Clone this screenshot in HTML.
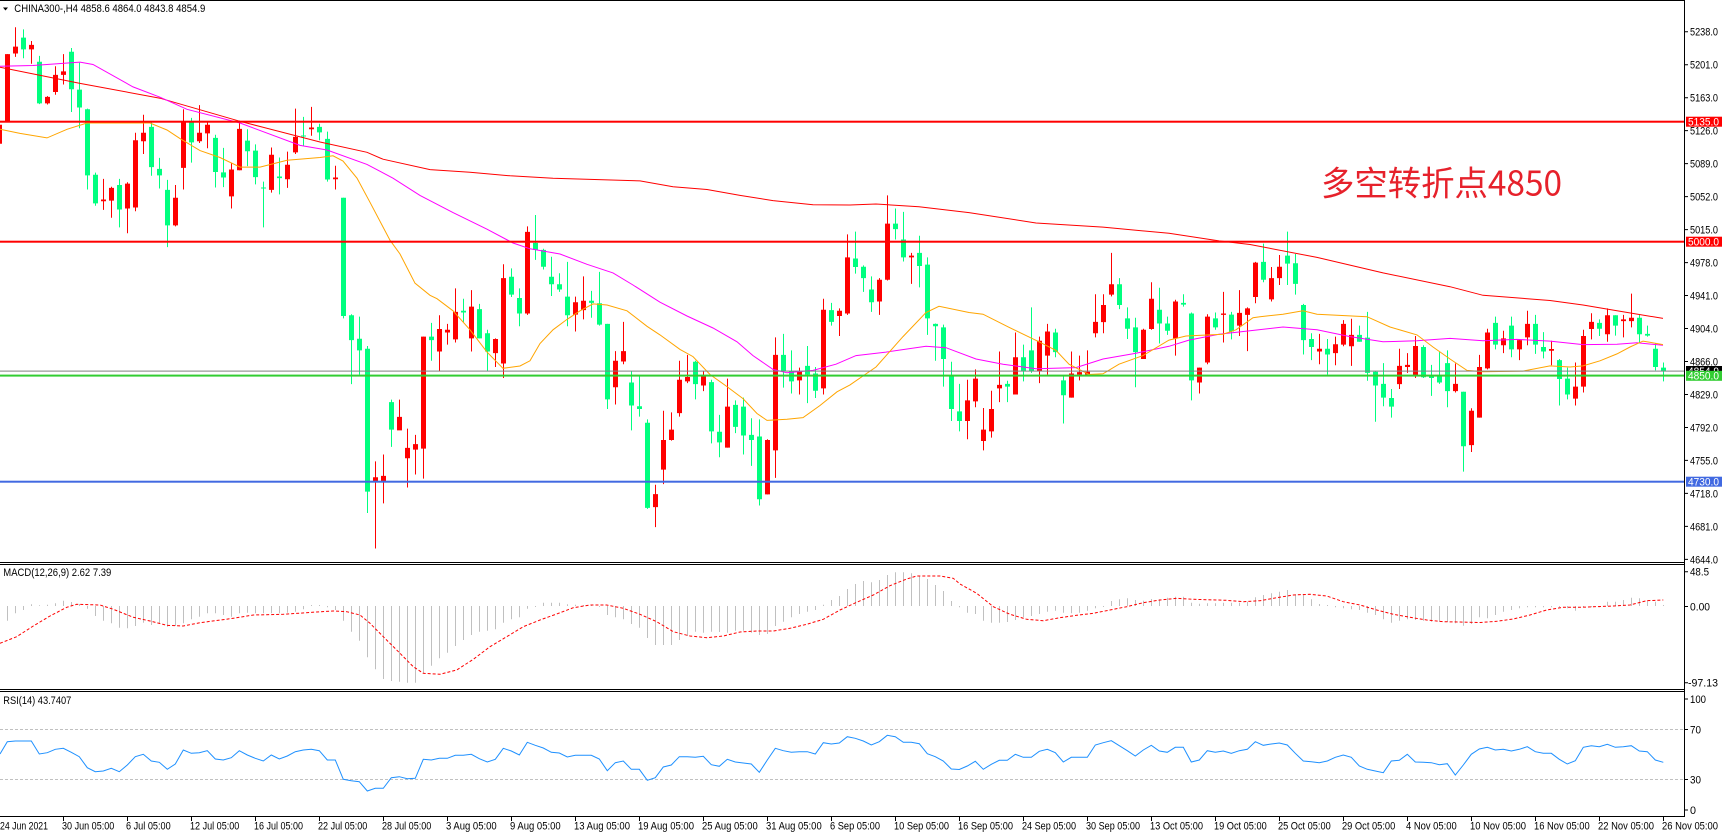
<!DOCTYPE html>
<html><head><meta charset="utf-8"><style>
html,body{margin:0;padding:0;background:#fff;}
svg{display:block;}
text{font-family:"Liberation Sans",Arial,sans-serif;font-size:11px;fill:#000;}
</style></head><body>
<svg width="1727" height="837" viewBox="0 0 1727 837" xmlns="http://www.w3.org/2000/svg">
<rect x="0" y="0" width="1727" height="837" fill="#fff"/>

<!-- candles (y in zoom units) -->
<g transform="translate(0,19.7) scale(1,0.3445)" fill="none">
<path stroke="#ff0000" stroke-width="1" d="M-0.5 300V365M7.5 100V295M15.5 22V108M31.5 62V128M47.5 222V246M55.5 135V218M63.5 100V188M103.5 462V552M111.5 485V575M127.5 472V620M135.5 328V556M143.5 276V390M175.5 480V600M183.5 260V493M199.5 248V358M207.5 296V373M231.5 416V548M239.5 293V437M271.5 371V502M287.5 383V488M295.5 258V390M311.5 253V337M335.5 424V493M375.5 1282V1535M383.5 1262V1404M399.5 1103V1190M407.5 1187V1358M415.5 1205V1320M423.5 920V1332M439.5 858V1020M447.5 883V943M455.5 780V937M471.5 785V963M495.5 925V1008M503.5 710V1040M527.5 600V857M575.5 804V905M583.5 745V870M615.5 962V1117M623.5 877V1000M655.5 1350V1473M663.5 1135V1348M671.5 1140V1222M679.5 990V1152M687.5 973V1055M703.5 1020V1078M727.5 1042V1242M767.5 1218V1378M775.5 922V1330M799.5 1010V1088M823.5 810V1088M839.5 838V918M847.5 623V857M879.5 750V857M887.5 510V757M911.5 677V767M967.5 1045V1218M975.5 1015V1125M983.5 1127V1250M991.5 1077V1213M999.5 963V1110M1015.5 908V1088M1039.5 920V1055M1047.5 883V1030M1071.5 963V1097M1079.5 975V1047M1087.5 960V1030M1095.5 797V922M1103.5 797V910M1111.5 677V803M1143.5 897V985M1151.5 762V900M1175.5 813V975M1199.5 1010V1085M1207.5 855V1000M1223.5 790V937M1239.5 785V918M1247.5 835V962M1255.5 703V823M1271.5 718V818M1279.5 683V770M1319.5 912V1000M1335.5 920V1003M1343.5 872V948M1351.5 868V1005M1399.5 955V1072M1407.5 968V1025M1415.5 918V1040M1455.5 998V1082M1471.5 1128V1255M1479.5 973V1155M1487.5 897V1015M1503.5 903V968M1519.5 927V988M1527.5 845V945M1551.5 932V1003M1575.5 995V1120M1583.5 900V1082M1591.5 852V928M1607.5 838V935M1623.5 857V922M1631.5 795V893"/>
<path stroke="#ff0000" stroke-width="5" d="M-0.5 305V360M7.5 100V295M15.5 78V98M31.5 73V86M47.5 224V243M55.5 160V210M63.5 150V160M103.5 522V527M111.5 488V525M127.5 476V548M135.5 350V545M143.5 328V353M175.5 517V597M183.5 296V430M199.5 328V353M207.5 305V330M231.5 435V513M239.5 317V437M271.5 392V494M287.5 421V463M295.5 340V385M311.5 313V318M335.5 458V463M375.5 1328V1340M383.5 1324V1340M399.5 1153V1192M407.5 1243V1273M415.5 1232V1248M423.5 920V1245M439.5 898V963M447.5 900V908M455.5 848V928M471.5 833V925M495.5 927V968M503.5 750V998M527.5 616V853M575.5 820V856M583.5 816V843M615.5 990V1067M623.5 962V992M655.5 1377V1415M663.5 1220V1306M671.5 1190V1220M679.5 1045V1142M687.5 1037V1050M703.5 1035V1062M727.5 1123V1242M767.5 1220V1378M775.5 973V1250M799.5 1020V1047M823.5 842V1070M839.5 845V860M847.5 690V853M879.5 755V818M887.5 592V755M911.5 685V690M967.5 1105V1165M975.5 1042V1108M983.5 1190V1223M991.5 1130V1195M999.5 1060V1070M1015.5 980V1088M1039.5 932V1020M1047.5 905V975M1071.5 1027V1097M1079.5 1023V1030M1087.5 1022V1030M1095.5 877V910M1103.5 828V878M1111.5 768V798M1143.5 900V985M1151.5 810V898M1175.5 818V925M1199.5 1010V1053M1207.5 862V995M1223.5 853V857M1239.5 851V888M1247.5 838V857M1255.5 705V805M1271.5 750V812M1279.5 717V750M1319.5 955V963M1335.5 942V968M1343.5 883V943M1351.5 915V948M1399.5 1005V1058M1407.5 1002V1008M1415.5 947V1032M1455.5 1057V1078M1471.5 1135V1235M1479.5 1008V1155M1487.5 908V1012M1503.5 925V945M1519.5 930V957M1527.5 883V922M1551.5 956V961M1575.5 1065V1100M1583.5 918V1065M1591.5 877V898M1607.5 858V913M1623.5 870V875M1631.5 865V875"/>
<path stroke="#00ff7f" stroke-width="1" d="M23.5 28V112M39.5 105V245M71.5 82V268M79.5 125V315M87.5 258V493M95.5 444V540M119.5 462V603M151.5 298V453M159.5 401V490M167.5 465V660M191.5 285V415M215.5 334V487M223.5 372V486M247.5 318V425M255.5 362V478M263.5 470V603M279.5 400V507M303.5 282V365M319.5 302V350M327.5 325V470M343.5 517V867M351.5 855V1058M359.5 862V1030M367.5 947V1432M391.5 1103V1240M431.5 880V990M463.5 810V877M479.5 825V925M487.5 900V1020M511.5 722V805M519.5 780V890M535.5 567V697M543.5 665V725M551.5 688V802M559.5 736V790M567.5 703V890M591.5 787V865M599.5 732V888M607.5 883V1130M631.5 1020V1192M639.5 1035V1152M647.5 1160V1420M695.5 990V1102M711.5 1045V1230M719.5 1147V1270M735.5 1105V1200M743.5 1097V1262M751.5 1157V1295M759.5 1160V1410M783.5 912V1068M791.5 960V1085M807.5 947V1113M815.5 1008V1098M831.5 822V888M855.5 615V737M863.5 713V790M871.5 745V848M895.5 548V638M903.5 558V702M919.5 627V777M927.5 690V915M935.5 882V990M943.5 885V1065M951.5 993V1165M959.5 1057V1195M1007.5 1048V1110M1023.5 943V1050M1031.5 835V1025M1055.5 897V980M1063.5 1035V1172M1119.5 750V840M1127.5 835V927M1135.5 865V1067M1159.5 778V940M1167.5 862V915M1183.5 797V833M1191.5 850V1105M1215.5 850V900M1231.5 848V928M1263.5 650V762M1287.5 615V770M1295.5 680V798M1303.5 825V972M1311.5 910V988M1327.5 927V1030M1359.5 888V935M1367.5 848V1048M1375.5 1020V1167M1383.5 997V1122M1391.5 1072V1155M1423.5 945V1040M1431.5 1002V1092M1439.5 965V1057M1447.5 960V1125M1463.5 1080V1312M1495.5 862V957M1511.5 862V980M1535.5 857V970M1543.5 907V983M1559.5 985V1120M1567.5 1010V1102M1599.5 870V918M1615.5 858V917M1639.5 857V940M1647.5 888V920M1655.5 940V1018M1663.5 995V1050"/>
<path stroke="#00ff7f" stroke-width="5" d="M23.5 52V86M39.5 122V243M71.5 93V202M79.5 203V255M87.5 260V452M95.5 450V533M119.5 480V551M151.5 311V428M159.5 433V452M167.5 494V597M191.5 296V356M215.5 343V442M223.5 443V458M247.5 351V382M255.5 380V457M263.5 487V490M279.5 455V460M303.5 336V339M319.5 311V327M327.5 346V464M343.5 517V860M351.5 858V930M359.5 926V960M367.5 955V1370M391.5 1110V1190M431.5 920V930M463.5 845V850M479.5 840V925M487.5 910V963M511.5 746V798M519.5 808V853M535.5 648V668M543.5 668V717M551.5 746V768M559.5 768V783M567.5 804V858M591.5 816V822M599.5 823V885M607.5 883V1102M631.5 1053V1120M639.5 1122V1130M647.5 1170V1417M695.5 993V1058M711.5 1052V1195M719.5 1196V1227M735.5 1118V1182M743.5 1123V1207M751.5 1205V1220M759.5 1210V1392M783.5 973V1020M791.5 1020V1050M807.5 1005V1030M815.5 1027V1077M831.5 843V877M855.5 693V718M863.5 717V750M871.5 783V820M895.5 592V608M903.5 638V690M919.5 677V715M927.5 711V867M935.5 883V890M943.5 893V985M951.5 1035V1130M959.5 1137V1165M1007.5 1057V1065M1023.5 980V1020M1031.5 960V1020M1055.5 908V965M1063.5 1047V1090M1119.5 768V828M1127.5 867V897M1135.5 893V965M1159.5 842V882M1167.5 882V903M1183.5 822V827M1191.5 853V1047M1215.5 867V893M1231.5 856V905M1263.5 703V755M1287.5 685V708M1295.5 707V767M1303.5 828V930M1311.5 927V950M1327.5 955V972M1359.5 915V935M1367.5 923V1025M1375.5 1022V1062M1383.5 1057V1097M1391.5 1098V1123M1423.5 950V1038M1431.5 1035V1040M1439.5 1035V1053M1447.5 997V1078M1463.5 1080V1238M1495.5 880V943M1511.5 888V957M1535.5 883V943M1543.5 950V963M1559.5 988V1043M1567.5 1042V1088M1599.5 880V897M1615.5 858V888M1639.5 865V913M1647.5 912V917M1655.5 955V1008M1663.5 1010V1020"/>
</g>

<!-- moving averages -->
<g fill="none" stroke-width="1">
<polyline stroke="#ff0000" points="0,67.2 80,83.4 160,98.2 240,121.3 320,142 367,152.3 383,159.2 430,169.6 470,172.3 510,175.8 553,178.2 607,179.9 640,180.9 673,186.8 707,189.5 740,195.4 773,200.6 813,204.7 850,205 876,204 919,206.8 969,212.6 1036,223 1103,227.1 1169,233.3 1219,240.9 1250,244.5 1317,257.4 1383,272.9 1450,286.7 1483,295.3 1550,300.5 1583,305 1617,310.8 1663,318.4"/>
<polyline stroke="#ff00ff" points="0,66.2 33,65.5 80,62.1 93,64.5 133,86.9 160,97.2 187,109.3 240,123 300,145.4 327,150 367,164.4 393,178.2 420,195.4 453,212.6 487,229.2 513,243 530,248.8 560,254 587,264.3 613,272.9 633,285 660,302.2 687,316 713,328 737,341.8 753,355.6 773,369.4 787,372.8 813,370.4 836,364.2 856,355.6 886,352.1 926,346.3 946,347.7 976,359 1003,364.2 1036,368.7 1076,367.6 1103,359 1136,353.2 1169,346.3 1189,340.1 1219,334.2 1250,330.8 1283,327 1317,329.8 1350,336.6 1383,341.8 1417,340.8 1450,338.4 1483,340.8 1517,339.4 1550,341.1 1583,344.6 1617,344.2 1637,342.8 1663,345.3"/>
<polyline stroke="#ffa500" points="0,129.3 20,133.4 47,137.9 67,129.3 87,123 150,123 167,130 180,138.6 200,150.6 220,157.5 240,167.1 260,167.1 287,160.3 320,157.5 333,155.8 343,161 357,178.2 370,202.3 390,240.2 400,254 415,283.2 430,295.3 437,298.7 453,310.8 470,329.8 487,352.1 503,368.3 520,366 530,360.8 540,343.5 553,329.8 567,319.4 580,310.8 593,303.9 607,305 627,310.8 647,326.3 660,334.9 680,349.4 693,356.6 710,374.5 727,386.6 743,398.6 757,413.5 767,420.4 787,419.3 803,417.6 820,405.5 837,391.8 850,384.9 876,367 903,336.6 926,312.5 939,306.3 969,312.5 983,314.2 1009,327.3 1039,341.8 1056,350.4 1069,364.2 1089,374.5 1103,373.8 1119,364.2 1143,355.6 1169,340.1 1186,336 1223,334.2 1236,329.8 1253,317.7 1260,316.7 1283,314.2 1303,310.8 1317,314.2 1367,316.7 1390,327 1417,334.9 1433,347 1450,359 1467,370.4 1483,371.8 1523,371.1 1550,365.9 1570,367 1583,365.9 1600,360.8 1617,353.9 1630,347 1643,341.1 1663,344.6"/>
</g>

<!-- horizontal levels -->
<rect x="0" y="120.7" width="1684" height="2" fill="#ff0000"/>
<rect x="0" y="240.7" width="1684" height="2" fill="#ff0000"/>
<rect x="0" y="370.6" width="1684" height="1" fill="#808080"/>
<rect x="0" y="374.6" width="1684" height="2" fill="#32cd32"/>
<rect x="0" y="480.7" width="1684" height="2" fill="#4169e1"/>

<!-- annotation -->
<text x="1321" y="195.5" textLength="241" lengthAdjust="spacingAndGlyphs" style="font-family:'Noto Sans CJK SC','Liberation Sans',sans-serif;font-size:34px;fill:#e6212b;">多空转折点4850</text>

<!-- header -->
<polygon points="3,7.5 8,7.5 5.5,10.5" fill="#000"/>
<text x="14.3" y="12" textLength="191" lengthAdjust="spacingAndGlyphs">CHINA300-,H4  4858.6 4864.0 4843.8 4854.9</text>

<!-- MACD histogram -->
<path fill="none" stroke="#c0c0c0" stroke-width="1" d="M7.5 606V620.7M15.5 606V613.3M23.5 606V610M31.5 606V604.3M39.5 606V605.3M47.5 606V604.7M55.5 606V603.3M63.5 606V600.7M71.5 606V602M79.5 606V604M87.5 606V608.7M95.5 606V616M103.5 606V620.7M111.5 606V623.3M119.5 606V627.7M127.5 606V628.3M135.5 606V626M143.5 606V622.7M151.5 606V625M159.5 606V623.3M167.5 606V626.7M175.5 606V626M183.5 606V623.3M191.5 606V619.3M199.5 606V616.7M207.5 606V613.3M215.5 606V613.3M223.5 606V615M231.5 606V616.7M239.5 606V613.3M247.5 606V612.7M255.5 606V613.3M263.5 606V613.3M271.5 606V613.3M279.5 606V613.3M287.5 606V612.7M295.5 606V611.7M303.5 606V609.3M311.5 606V605M319.5 606V605M327.5 606V607.3M335.5 606V610M343.5 606V620.7M351.5 606V631.7M359.5 606V640.7M367.5 606V657.3M375.5 606V669.3M383.5 606V679M391.5 606V681M399.5 606V681.7M407.5 606V682.7M415.5 606V682.7M423.5 606V673.3M431.5 606V665.7M439.5 606V658.3M447.5 606V652.7M455.5 606V646M463.5 606V640M471.5 606V635M479.5 606V631.7M487.5 606V630.7M495.5 606V629.3M503.5 606V622.7M511.5 606V619.3M519.5 606V617.3M527.5 606V608.7M535.5 606V607M543.5 606V602.7M551.5 606V602.7M559.5 606V602.7M567.5 606V604.3M575.5 606V604.7M583.5 606V605M591.5 606V605M599.5 606V607M607.5 606V615M615.5 606V617.3M623.5 606V619.3M631.5 606V624M639.5 606V627.7M647.5 606V638M655.5 606V645M663.5 606V645M671.5 606V645M679.5 606V640M687.5 606V636M695.5 606V631.7M703.5 606V632.7M711.5 606V631.7M719.5 606V632M727.5 606V632.7M735.5 606V630.7M743.5 606V630.7M751.5 606V632.7M759.5 606V635M767.5 606V634M775.5 606V626M783.5 606V621.7M791.5 606V617.3M799.5 606V614M807.5 606V611.7M815.5 606V610M823.5 606V604.7M831.5 606V600M839.5 606V596M847.5 606V589M855.5 606V584M863.5 606V581M871.5 606V582.3M879.5 606V580M887.5 606V575M895.5 606V572.3M903.5 606V572.3M911.5 606V573.3M919.5 606V575.7M927.5 606V579M935.5 606V585M943.5 606V591M951.5 606V601M959.5 606V607.3M967.5 606V612.7M975.5 606V614M983.5 606V620.7M991.5 606V622.7M999.5 606V622.7M1007.5 606V622M1015.5 606V620M1023.5 606V617.3M1031.5 606V616M1039.5 606V614M1047.5 606V611.7M1055.5 606V610.7M1063.5 606V612.7M1071.5 606V613.3M1079.5 606V612.7M1087.5 606V610.7M1095.5 606V608.3M1103.5 606V607M1111.5 606V601M1119.5 606V599.3M1127.5 606V598.3M1135.5 606V600M1143.5 606V600.7M1151.5 606V599M1159.5 606V599.3M1167.5 606V597.7M1175.5 606V596.7M1183.5 606V596.7M1191.5 606V602.7M1199.5 606V603.7M1207.5 606V603.3M1215.5 606V603.3M1223.5 606V602.7M1231.5 606V602.7M1239.5 606V602.7M1247.5 606V601.7M1255.5 606V597.3M1263.5 606V595M1271.5 606V593.3M1279.5 606V591.7M1287.5 606V590M1295.5 606V594.3M1303.5 606V594.3M1311.5 606V599.3M1319.5 606V604M1327.5 606V605M1335.5 606V607.3M1343.5 606V608.3M1351.5 606V609.3M1359.5 606V610M1367.5 606V612.7M1375.5 606V615M1383.5 606V619.3M1391.5 606V622.7M1399.5 606V620.7M1407.5 606V619.3M1415.5 606V620M1423.5 606V620.7M1431.5 606V621.7M1439.5 606V621.7M1447.5 606V622M1455.5 606V623.3M1463.5 606V625.7M1471.5 606V624M1479.5 606V617.3M1487.5 606V618.3M1495.5 606V615M1503.5 606V611.7M1511.5 606V610M1519.5 606V608.3M1527.5 606V607.3M1535.5 606V607.3M1543.5 606V607.3M1551.5 606V607.3M1559.5 606V607.3M1567.5 606V608.3M1575.5 606V610.7M1583.5 606V607.3M1591.5 606V607.3M1599.5 606V607.3M1607.5 606V601.7M1615.5 606V601.7M1623.5 606V600M1631.5 606V597.7M1639.5 606V598.3M1647.5 606V600.7M1655.5 606V601.7M1663.5 606V605"/>
<!-- MACD signal -->
<polyline fill="none" stroke="#ff0000" stroke-width="1" stroke-dasharray="3 2" points="0,643.3 16.7,636.7 33.3,626 50,616 66.7,607.3 76.7,604.3 100,605 113.3,609.3 133.3,617.3 150,621 166.7,625.3 183.3,626 200,622.7 233.3,618.3 253.3,615 283.3,614.3 316.7,612 333.3,611 346.7,611.7 360,615 370,623.3 383.3,636.7 400,653.3 413.3,666.7 423.3,673.3 440,674.3 456.7,670 473.3,659.3 490,646.7 506.7,636.7 523.3,626.7 540,620 556.7,614 573.3,607.7 590,605 606.7,605 623.3,608.3 640,614.3 656.7,621.7 673.3,631.7 690,636 706.7,637.7 723.3,636 740,632 756.7,631 773.3,631 790,628.3 806.7,624.3 823.3,619.3 840,610 856.7,602.3 873.3,595 890,585.7 906.7,579 916.7,576 940,576 953.3,578.3 960,584 976.7,593.3 993.3,606.7 1010,614.3 1026.7,619.3 1043.3,620.7 1060,617.7 1076.7,615.3 1093.3,613.3 1110,610 1126.7,606.7 1143.3,602.7 1160,600 1176.7,598.3 1193.3,599.3 1226.7,600.3 1243.3,601.7 1260,600.7 1276.7,597.7 1293.3,595 1310,594.3 1326.7,596 1343.3,601.7 1360,605 1376.7,610 1393.3,614.3 1410,617.3 1426.7,620 1443.3,621.7 1460,622 1480,622.5 1496.7,621.3 1513.3,619 1530,615 1546.7,610 1563.3,607.3 1580,607.3 1613.3,606 1630,605 1646.7,600.7 1663.3,600"/>

<!-- RSI levels -->
<line x1="0" y1="729.5" x2="1684" y2="729.5" stroke="#c0c0c0" stroke-width="1" stroke-dasharray="3 2"/>
<line x1="0" y1="779.5" x2="1684" y2="779.5" stroke="#c0c0c0" stroke-width="1" stroke-dasharray="3 2"/>
<!-- RSI line -->
<polyline fill="none" stroke="#1e90ff" stroke-width="1" points="0,754 7.3,741.7 15.3,741 23.3,741 31.3,741 39.3,754 47.3,752.7 55.3,749.3 63.3,748.3 71.3,752.3 79.3,756.7 87.3,767.7 95.3,771.7 103.3,771 111.3,768.3 119.3,771.7 127.3,765 135.3,756.7 143.3,754.3 151.3,761 159.3,762.3 167.3,769.3 175.3,764 183.3,750 191.3,753.3 199.3,752.7 207.3,750.7 215.3,759 223.3,760 231.3,757.7 239.3,750.7 247.3,755 255.3,758.3 263.3,761 271.3,755 279.3,759 287.3,756 295.3,751.7 303.3,750 311.3,749.3 319.3,750.7 327.3,760 335.3,760 343.3,779.3 351.3,780.7 359.3,781.7 367.3,791 375.3,788.3 383.3,788.3 391.3,777.7 399.3,776.7 407.3,778.7 415.3,778.3 423.3,759.3 431.3,760 439.3,758.3 447.3,758.3 455.3,755.3 463.3,755.3 471.3,754.3 479.3,758.7 487.3,762 495.3,759.3 503.3,748.3 511.3,751 519.3,755 527.3,742.3 535.3,745.3 543.3,748 551.3,752.3 559.3,753 567.3,757 575.3,755.3 583.3,755.3 591.3,755.3 599.3,759 607.3,770.7 615.3,762.7 623.3,761 631.3,769.3 639.3,769.3 647.3,780.3 655.3,777.7 663.3,767 671.3,765 679.3,756.7 687.3,756.7 695.3,757.3 703.3,756.3 711.3,764.7 719.3,766.3 727.3,759.3 735.3,762 743.3,763 751.3,764 759.3,772.3 767.3,760 775.3,748.3 783.3,750.7 791.3,752.3 799.3,751.7 807.3,751.7 815.3,754 823.3,742.7 831.3,744 839.3,743 847.3,736.7 855.3,738.3 863.3,741 871.3,745 879.3,741.7 887.3,735.3 895.3,736.7 903.3,742.3 911.3,742.3 919.3,743.7 927.3,753.7 935.3,756.7 943.3,761 951.3,769 959.3,769.5 967.3,766 975.3,761.3 983.3,769.3 991.3,764.3 999.3,760.3 1007.3,760.3 1015.3,754.3 1023.3,757.3 1031.3,757.3 1039.3,751.3 1047.3,749.3 1055.3,752.7 1063.3,762 1071.3,757.3 1079.3,757.3 1087.3,757.3 1095.3,745 1103.3,742.7 1111.3,740.7 1119.3,745.7 1127.3,750.7 1135.3,756 1143.3,750 1151.3,745.3 1159.3,751 1167.3,752.3 1175.3,747.3 1183.3,747.3 1191.3,762 1199.3,760 1207.3,750.7 1215.3,752.3 1223.3,751 1231.3,753.3 1239.3,750.7 1247.3,749.3 1255.3,741.7 1263.3,745.3 1271.3,744 1279.3,743 1287.3,745 1295.3,753.3 1303.3,761 1311.3,761.7 1319.3,762.7 1327.3,761 1335.3,757.3 1343.3,755 1351.3,757.3 1359.3,766 1367.3,769.3 1375.3,771 1383.3,772.7 1391.3,761 1399.3,760.3 1407.3,754.3 1415.3,762 1423.3,762.3 1431.3,762.7 1439.3,764.7 1447.3,763.7 1455.3,775 1463.3,765 1471.3,754.3 1479.3,749 1487.3,747.3 1495.3,750 1503.3,749.3 1511.3,751 1519.3,749.3 1527.3,746.7 1535.3,751.7 1543.3,753.3 1551.3,753.3 1559.3,759.3 1567.3,764 1575.3,760.7 1583.3,747.3 1591.3,745.7 1599.3,746.7 1607.3,744.3 1615.3,747.3 1623.3,746.7 1631.3,745.7 1639.3,751 1647.3,751.7 1655.3,760 1663.3,762.3"/>

<!-- panel borders -->
<g fill="#000">
<rect x="0" y="0" width="1685" height="1"/>
<rect x="1684" y="0" width="1" height="817"/>
<rect x="0" y="562" width="1685" height="1"/>
<rect x="0" y="564" width="1685" height="1"/>
<rect x="0" y="689" width="1685" height="1"/>
<rect x="0" y="691" width="1685" height="1"/>
<rect x="0" y="816" width="1685" height="1"/>
</g>

<!-- panel labels -->
<text x="3.3" y="576" textLength="108" lengthAdjust="spacingAndGlyphs">MACD(12,26,9) 2.62 7.39</text>
<text x="3.3" y="704" textLength="68" lengthAdjust="spacingAndGlyphs">RSI(14) 43.7407</text>

<!-- price axis ticks -->
<path stroke="#000" stroke-width="1" d="M1684 31.7H1688M1684 64.7H1688M1684 97.7H1688M1684 130.6H1688M1684 163.6H1688M1684 196.6H1688M1684 229.6H1688M1684 262.6H1688M1684 295.5H1688M1684 328.5H1688M1684 361.5H1688M1684 394.5H1688M1684 427.5H1688M1684 460.4H1688M1684 493.4H1688M1684 526.4H1688M1684 559.4H1688M1684 571.7H1688M1684 606.5H1688M1684 682.7H1688M1684 699H1688M1684 729.5H1688M1684 779.5H1688M1684 810H1688"/>
<g>
<text x="1690" y="35.7" textLength="28" lengthAdjust="spacingAndGlyphs">5238.0</text>
<text x="1690" y="68.7" textLength="28" lengthAdjust="spacingAndGlyphs">5201.0</text>
<text x="1690" y="101.7" textLength="28" lengthAdjust="spacingAndGlyphs">5163.0</text>
<text x="1690" y="134.6" textLength="28" lengthAdjust="spacingAndGlyphs">5126.0</text>
<text x="1690" y="167.6" textLength="28" lengthAdjust="spacingAndGlyphs">5089.0</text>
<text x="1690" y="200.6" textLength="28" lengthAdjust="spacingAndGlyphs">5052.0</text>
<text x="1690" y="233.6" textLength="28" lengthAdjust="spacingAndGlyphs">5015.0</text>
<text x="1690" y="266.6" textLength="28" lengthAdjust="spacingAndGlyphs">4978.0</text>
<text x="1690" y="299.5" textLength="28" lengthAdjust="spacingAndGlyphs">4941.0</text>
<text x="1690" y="332.5" textLength="28" lengthAdjust="spacingAndGlyphs">4904.0</text>
<text x="1690" y="365.5" textLength="28" lengthAdjust="spacingAndGlyphs">4866.0</text>
<text x="1690" y="398.5" textLength="28" lengthAdjust="spacingAndGlyphs">4829.0</text>
<text x="1690" y="431.5" textLength="28" lengthAdjust="spacingAndGlyphs">4792.0</text>
<text x="1690" y="464.4" textLength="28" lengthAdjust="spacingAndGlyphs">4755.0</text>
<text x="1690" y="497.4" textLength="28" lengthAdjust="spacingAndGlyphs">4718.0</text>
<text x="1690" y="530.4" textLength="28" lengthAdjust="spacingAndGlyphs">4681.0</text>
<text x="1690" y="563.4" textLength="28" lengthAdjust="spacingAndGlyphs">4644.0</text>
<text x="1690" y="575.7" textLength="19" lengthAdjust="spacingAndGlyphs">48.5</text>
<text x="1690" y="610.7" textLength="20" lengthAdjust="spacingAndGlyphs">0.00</text>
<text x="1688" y="686.7" textLength="30" lengthAdjust="spacingAndGlyphs">-97.13</text>
<text x="1690" y="703" textLength="16" lengthAdjust="spacingAndGlyphs">100</text>
<text x="1690" y="733.3" textLength="11" lengthAdjust="spacingAndGlyphs">70</text>
<text x="1690" y="783.3" textLength="11" lengthAdjust="spacingAndGlyphs">30</text>
<text x="1690" y="814" textLength="6" lengthAdjust="spacingAndGlyphs">0</text>
</g>

<!-- price boxes -->
<rect x="1686" y="116.7" width="36" height="10" fill="#ff0000"/>
<text x="1688" y="125.5" textLength="31" lengthAdjust="spacingAndGlyphs" style="fill:#fff">5135.0</text>
<rect x="1686" y="236.7" width="36" height="10" fill="#ff0000"/>
<text x="1688" y="245.5" textLength="31" lengthAdjust="spacingAndGlyphs" style="fill:#fff">5000.0</text>
<rect x="1686" y="366" width="36" height="10" fill="#000"/>
<text x="1688" y="374.8" textLength="31" lengthAdjust="spacingAndGlyphs" style="fill:#fff">4854.9</text>
<rect x="1686" y="370.8" width="36" height="10" fill="#32cd32"/>
<text x="1688" y="379.6" textLength="31" lengthAdjust="spacingAndGlyphs" style="fill:#fff">4850.0</text>
<rect x="1686" y="476.7" width="36" height="10" fill="#4169e1"/>
<text x="1688" y="485.5" textLength="31" lengthAdjust="spacingAndGlyphs" style="fill:#fff">4730.0</text>

<!-- time axis ticks -->
<path stroke="#000" stroke-width="1" d="M63.5 816V821M127.5 816V821M191.5 816V821M255.5 816V821M319.5 816V821M383.5 816V821M447.5 816V821M511.5 816V821M575.5 816V821M639.5 816V821M703.5 816V821M767.5 816V821M831.5 816V821M895.5 816V821M959.5 816V821M1023.5 816V821M1087.5 816V821M1151.5 816V821M1215.5 816V821M1279.5 816V821M1343.5 816V821M1407.5 816V821M1471.5 816V821M1535.5 816V821M1599.5 816V821M1663.5 816V821"/>
<g>
<text x="0" y="829.3" textLength="48" lengthAdjust="spacingAndGlyphs">24 Jun 2021</text>
<text x="62" y="829.3" textLength="52.3" lengthAdjust="spacingAndGlyphs">30 Jun 05:00</text>
<text x="126" y="829.3" textLength="44.7" lengthAdjust="spacingAndGlyphs">6 Jul 05:00</text>
<text x="190" y="829.3" textLength="49.3" lengthAdjust="spacingAndGlyphs">12 Jul 05:00</text>
<text x="254" y="829.3" textLength="49" lengthAdjust="spacingAndGlyphs">16 Jul 05:00</text>
<text x="318" y="829.3" textLength="49.3" lengthAdjust="spacingAndGlyphs">22 Jul 05:00</text>
<text x="382" y="829.3" textLength="49.3" lengthAdjust="spacingAndGlyphs">28 Jul 05:00</text>
<text x="446" y="829.3" textLength="50.7" lengthAdjust="spacingAndGlyphs">3 Aug 05:00</text>
<text x="510" y="829.3" textLength="50.7" lengthAdjust="spacingAndGlyphs">9 Aug 05:00</text>
<text x="574" y="829.3" textLength="56" lengthAdjust="spacingAndGlyphs">13 Aug 05:00</text>
<text x="638" y="829.3" textLength="56" lengthAdjust="spacingAndGlyphs">19 Aug 05:00</text>
<text x="702" y="829.3" textLength="55.7" lengthAdjust="spacingAndGlyphs">25 Aug 05:00</text>
<text x="766" y="829.3" textLength="55.7" lengthAdjust="spacingAndGlyphs">31 Aug 05:00</text>
<text x="830" y="829.3" textLength="50" lengthAdjust="spacingAndGlyphs">6 Sep 05:00</text>
<text x="894" y="829.3" textLength="55" lengthAdjust="spacingAndGlyphs">10 Sep 05:00</text>
<text x="958" y="829.3" textLength="55" lengthAdjust="spacingAndGlyphs">16 Sep 05:00</text>
<text x="1022" y="829.3" textLength="54" lengthAdjust="spacingAndGlyphs">24 Sep 05:00</text>
<text x="1086" y="829.3" textLength="54" lengthAdjust="spacingAndGlyphs">30 Sep 05:00</text>
<text x="1150" y="829.3" textLength="53" lengthAdjust="spacingAndGlyphs">13 Oct 05:00</text>
<text x="1214" y="829.3" textLength="52.7" lengthAdjust="spacingAndGlyphs">19 Oct 05:00</text>
<text x="1278" y="829.3" textLength="52.7" lengthAdjust="spacingAndGlyphs">25 Oct 05:00</text>
<text x="1342" y="829.3" textLength="53.3" lengthAdjust="spacingAndGlyphs">29 Oct 05:00</text>
<text x="1406" y="829.3" textLength="50.7" lengthAdjust="spacingAndGlyphs">4 Nov 05:00</text>
<text x="1470" y="829.3" textLength="56" lengthAdjust="spacingAndGlyphs">10 Nov 05:00</text>
<text x="1534" y="829.3" textLength="55.7" lengthAdjust="spacingAndGlyphs">16 Nov 05:00</text>
<text x="1598" y="829.3" textLength="56" lengthAdjust="spacingAndGlyphs">22 Nov 05:00</text>
<text x="1662" y="829.3" textLength="56" lengthAdjust="spacingAndGlyphs">26 Nov 05:00</text>
</g>
</svg>
</body></html>
